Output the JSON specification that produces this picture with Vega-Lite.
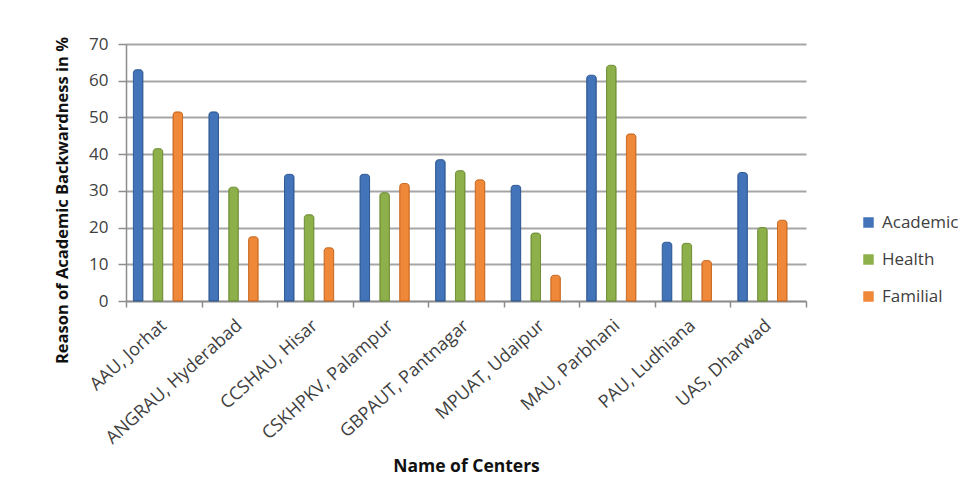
{
  "$schema": "https://vega.github.io/schema/vega-lite/v6.json",
  "autosize": {"type": "none"},
  "padding": {"left": 126, "top": 44, "right": 173, "bottom": 199},
  "width": 680,
  "height": 257,
  "background": "white",
  "config": {
    "font": "Open Sans",
    "view": {"stroke": null},
    "axis": {"labelColor": "#404040", "titleColor": "#111111", "domainColor": "#8c8c8c", "tickColor": "#8c8c8c", "gridColor": "#a6a6a6"}
  },
  "data": {
    "values": [
      {"center": "AAU, Jorhat", "reason": "Academic", "value": 63},
      {"center": "AAU, Jorhat", "reason": "Health", "value": 41.5},
      {"center": "AAU, Jorhat", "reason": "Familial", "value": 51.5},
      {"center": "ANGRAU, Hyderabad", "reason": "Academic", "value": 51.5},
      {"center": "ANGRAU, Hyderabad", "reason": "Health", "value": 31},
      {"center": "ANGRAU, Hyderabad", "reason": "Familial", "value": 17.5},
      {"center": "CCSHAU, Hisar", "reason": "Academic", "value": 34.5},
      {"center": "CCSHAU, Hisar", "reason": "Health", "value": 23.5},
      {"center": "CCSHAU, Hisar", "reason": "Familial", "value": 14.5},
      {"center": "CSKHPKV, Palampur", "reason": "Academic", "value": 34.5},
      {"center": "CSKHPKV, Palampur", "reason": "Health", "value": 29.5},
      {"center": "CSKHPKV, Palampur", "reason": "Familial", "value": 32},
      {"center": "GBPAUT, Pantnagar", "reason": "Academic", "value": 38.5},
      {"center": "GBPAUT, Pantnagar", "reason": "Health", "value": 35.5},
      {"center": "GBPAUT, Pantnagar", "reason": "Familial", "value": 33},
      {"center": "MPUAT, Udaipur", "reason": "Academic", "value": 31.5},
      {"center": "MPUAT, Udaipur", "reason": "Health", "value": 18.5},
      {"center": "MPUAT, Udaipur", "reason": "Familial", "value": 7},
      {"center": "MAU, Parbhani", "reason": "Academic", "value": 61.5},
      {"center": "MAU, Parbhani", "reason": "Health", "value": 64.2},
      {"center": "MAU, Parbhani", "reason": "Familial", "value": 45.5},
      {"center": "PAU, Ludhiana", "reason": "Academic", "value": 16},
      {"center": "PAU, Ludhiana", "reason": "Health", "value": 15.7},
      {"center": "PAU, Ludhiana", "reason": "Familial", "value": 11},
      {"center": "UAS, Dharwad", "reason": "Academic", "value": 35},
      {"center": "UAS, Dharwad", "reason": "Health", "value": 20},
      {"center": "UAS, Dharwad", "reason": "Familial", "value": 22}
    ]
  },
  "mark": {"type": "bar", "cornerRadiusTopLeft": 3, "cornerRadiusTopRight": 3, "strokeWidth": 1},
  "encoding": {
    "x": {
      "field": "center", "type": "nominal", "sort": null,
      "scale": {"paddingInner": 0, "paddingOuter": 0},
      "axis": {
        "title": "Name of Centers", "titleFontSize": 17.5, "titleFontWeight": "bold",
        "titleY": 165, "titleBaseline": "middle",
        "labelAngle": -42, "labelFontSize": 18, "labelAlign": "right", "labelBaseline": "middle",
        "tickBand": "extent", "tickSize": 6, "tickWidth": 1.5, "domainWidth": 1.5, "labelPadding": 16
      }
    },
    "xOffset": {
      "field": "reason", "type": "nominal", "sort": ["Academic", "Health", "Familial"],
      "scale": {"paddingInner": 0.52, "paddingOuter": 0.665, "align": 0.28}
    },
    "y": {
      "field": "value", "type": "quantitative",
      "scale": {"domain": [0, 70], "nice": false},
      "axis": {
        "title": "Reason of Academic Backwardness in %", "titleFontSize": 16.5, "titleFontWeight": "bold",
        "titleX": -64, "titleY": 156, "titleAlign": "center", "titleBaseline": "middle",
        "values": [0, 10, 20, 30, 40, 50, 60, 70], "labelFontSize": 17, "labelPadding": 10,
        "tickSize": 8, "tickWidth": 1.5, "domainWidth": 1.5, "gridWidth": 2
      }
    },
    "color": {
      "field": "reason", "type": "nominal",
      "scale": {"domain": ["Academic", "Health", "Familial"], "range": ["#4373B8", "#8DB04A", "#F0883A"]},
      "legend": {
        "title": null, "orient": "none", "legendX": 734, "legendY": 170,
        "symbolType": "square", "symbolSize": 110, "symbolStrokeWidth": 0,
        "labelFontSize": 17, "labelColor": "#404040", "rowPadding": 19, "labelOffset": 5
      }
    },
    "stroke": {
      "field": "reason", "type": "nominal",
      "scale": {"domain": ["Academic", "Health", "Familial"], "range": ["#2F5A94", "#6F8E35", "#C96A22"]},
      "legend": null
    }
  }
}
